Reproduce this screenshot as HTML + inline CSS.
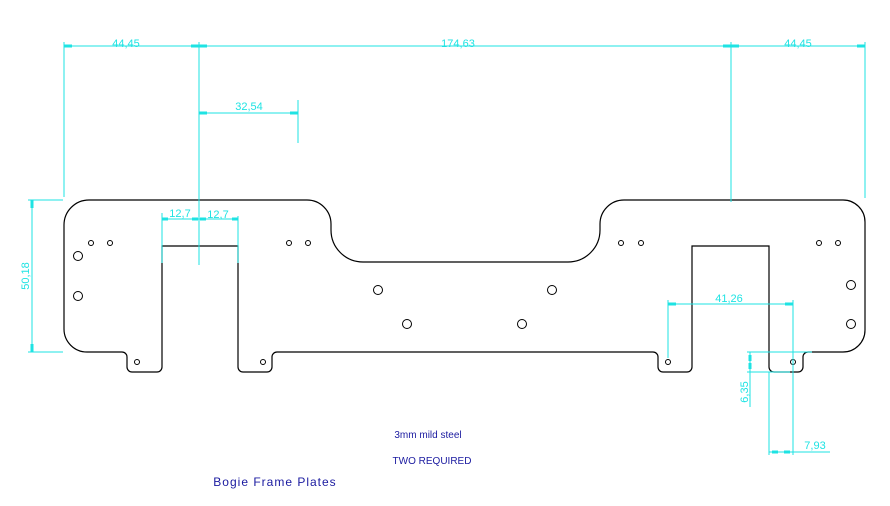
<!DOCTYPE html>
<html><head><style>html,body{margin:0;padding:0;background:#fff;}svg{display:block}</style></head>
<body>
<svg width="890" height="506" viewBox="0 0 890 506" xmlns="http://www.w3.org/2000/svg">
<g fill="none" stroke="#000" stroke-width="1.2">
<path d="M89,200 L307,200 A24,24 0 0 1 331,224 L331,230 A32,32 0 0 0 363,262 L568,262 A32,32 0 0 0 600,230 L600,224 A24,24 0 0 1 624,200 L843,200 A22,22 0 0 1 865,222 L865,330 A22,22 0 0 1 843,352 L808,352 A5,5 0 0 0 803,357 L803,367 A5,5 0 0 1 798,372 L774,372 A5,5 0 0 1 769,367 L769,246 L692,246 L692,367 A5,5 0 0 1 687,372 L663,372 A5,5 0 0 1 658,367 L658,357 A5,5 0 0 0 653,352 L277,352 A5,5 0 0 0 272,357 L272,367 A5,5 0 0 1 267,372 L243,372 A5,5 0 0 1 238,367 L238,246 L162,246 L162,367 A5,5 0 0 1 157,372 L132,372 A5,5 0 0 1 127,367 L127,357 A5,5 0 0 0 122,352 L87,352 A23,23 0 0 1 64,329 L64,225 A25,25 0 0 1 89,200 Z"/>
<g stroke-width="1">
<circle cx="91" cy="243" r="2.5"/><circle cx="110" cy="243" r="2.5"/>
<circle cx="289" cy="243" r="2.5"/><circle cx="308" cy="243" r="2.5"/>
<circle cx="621" cy="243" r="2.5"/><circle cx="641" cy="243" r="2.5"/>
<circle cx="819" cy="243" r="2.5"/><circle cx="838" cy="243" r="2.5"/>
<circle cx="137" cy="362" r="2.5"/><circle cx="263" cy="362" r="2.5"/>
<circle cx="668" cy="362" r="2.5"/><circle cx="793" cy="362" r="2.5"/>
<circle cx="78" cy="256" r="4.5"/><circle cx="78" cy="296" r="4.5"/>
<circle cx="851" cy="285" r="4.5"/><circle cx="851" cy="324" r="4.5"/>
<circle cx="378" cy="290" r="4.5"/><circle cx="552" cy="290" r="4.5"/>
<circle cx="407" cy="324" r="4.5"/><circle cx="522" cy="324" r="4.5"/>
</g>
</g>
<g stroke="#1ee3e3" stroke-width="1" fill="none">
<line x1="64" y1="46" x2="865" y2="46"/>
<line x1="64" y1="42" x2="64" y2="197"/>
<line x1="199" y1="42" x2="199" y2="265"/>
<line x1="731" y1="42" x2="731" y2="202"/>
<line x1="865" y1="42" x2="865" y2="198"/>
<line x1="199" y1="113" x2="298" y2="113"/>
<line x1="298" y1="100" x2="298" y2="143"/>
<line x1="32" y1="200" x2="32" y2="352"/>
<line x1="28" y1="200" x2="63" y2="200"/>
<line x1="28" y1="352" x2="63" y2="352"/>
<line x1="162" y1="219" x2="238" y2="219"/>
<line x1="162" y1="213" x2="162" y2="263"/>
<line x1="238" y1="216" x2="238" y2="263"/>
<line x1="668" y1="304" x2="793" y2="304"/>
<line x1="668" y1="300" x2="668" y2="358"/>
<line x1="793" y1="300" x2="793" y2="455"/>
<line x1="747" y1="352" x2="812" y2="352"/>
<line x1="747" y1="372" x2="790" y2="372"/>
<line x1="750" y1="352" x2="750" y2="407"/>
<line x1="769" y1="372" x2="769" y2="455"/>
<line x1="769" y1="452" x2="830" y2="452"/>
</g>
<g fill="#1ee3e3">
<rect x="64" y="44.5" width="8" height="3"/><rect x="191" y="44.5" width="8" height="3"/>
<rect x="199" y="44.5" width="8" height="3"/><rect x="723" y="44.5" width="8" height="3"/>
<rect x="731" y="44.5" width="8" height="3"/><rect x="857" y="44.5" width="8" height="3"/>
<rect x="199" y="111.5" width="8" height="3"/><rect x="290" y="111.5" width="8" height="3"/>
<rect x="30.5" y="200" width="3" height="8"/><rect x="30.5" y="344" width="3" height="8"/>
<rect x="162" y="217.5" width="6" height="3"/><rect x="192" y="217.5" width="6" height="3"/>
<rect x="200" y="217.5" width="6" height="3"/><rect x="232" y="217.5" width="6" height="3"/>
<rect x="668" y="302.5" width="8" height="3"/><rect x="785" y="302.5" width="8" height="3"/>
<rect x="748.5" y="355" width="3" height="6"/><rect x="748.5" y="363" width="3" height="6"/>
<rect x="772" y="450.5" width="6" height="3"/><rect x="784" y="450.5" width="6" height="3"/>
</g>
<g fill="#1ee3e3" font-family="Liberation Sans, sans-serif" font-size="11" text-anchor="middle">
<text x="126" y="47">44,45</text>
<text x="458" y="47">174,63</text>
<text x="798" y="47">44,45</text>
<text x="249" y="110">32,54</text>
<text x="180" y="217">12,7</text>
<text x="218" y="218">12,7</text>
<text x="729" y="302">41,26</text>
<text x="815" y="449">7,93</text>
<text transform="translate(29,276) rotate(-90)">50,18</text>
<text transform="translate(748,392) rotate(-90)">6,35</text>
</g>
<g fill="#1a1aa0" font-family="Liberation Sans, sans-serif" text-anchor="middle">
<text x="428" y="438" font-size="10">3mm mild steel</text>
<text x="432" y="464" font-size="10">TWO REQUIRED</text>
<text x="275" y="486" font-size="12" letter-spacing="1">Bogie Frame Plates</text>
</g>
</svg>
</body></html>
